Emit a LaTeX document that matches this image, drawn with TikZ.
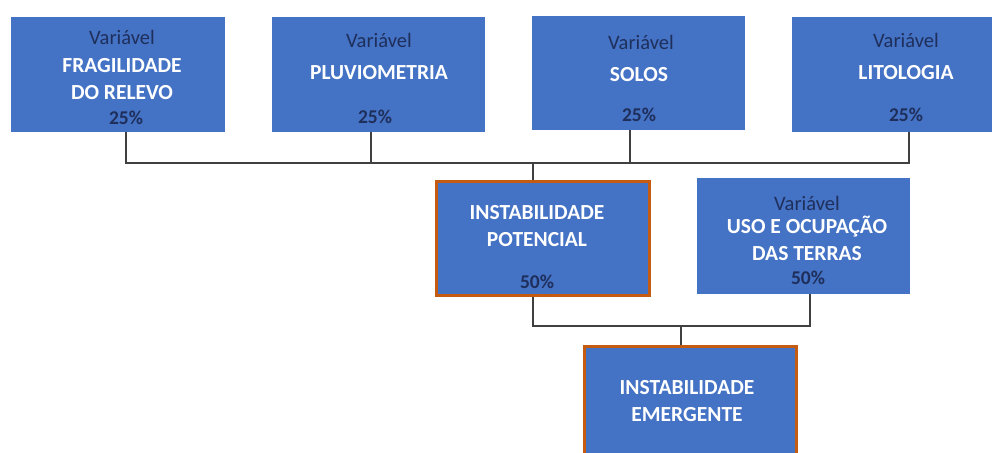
\documentclass[tikz,border=0pt]{standalone}
\usepackage{fontspec}
\setmainfont{Carlito}
\definecolor{boxblue}{HTML}{4472C4}
\definecolor{boxorange}{HTML}{C55A11}
\definecolor{navy}{HTML}{1F2F5C}
\definecolor{lineg}{HTML}{404040}
\begin{document}
\begin{tikzpicture}[x=1pt,y=-1pt,
  box/.style={fill=boxblue, inner sep=0pt, anchor=north west},
  obox/.style={box, draw=boxorange, line width=3pt},
  vtxt/.style={text=navy, font=\fontsize{20.5}{22}\selectfont, inner sep=0pt},
  ptxt/.style={text=navy, font=\fontsize{19.5}{22}\selectfont\bfseries, inner sep=0pt},
  ntxt/.style={text=white, font=\fontsize{21.5}{27}\selectfont\bfseries, inner sep=0pt, align=center},
  conn/.style={draw=lineg, line width=2pt}]
\useasboundingbox (0,0) rectangle (992,452);
\fill[white] (0,0) rectangle (992,452);
\clip (0,0) rectangle (992,452);
% top boxes
\node[box, minimum width=214pt, minimum height=115pt] (b1) at (11,17) {};
\node[box, minimum width=213pt, minimum height=115pt] (b2) at (272,17) {};
\node[box, minimum width=213pt, minimum height=114pt] (b3) at (532,16) {};
\node[box, minimum width=230pt, minimum height=115pt] (b4) at (792,17) {};
% middle/bottom boxes
\node[obox, minimum width=213pt, minimum height=114pt] (ip) at (434.5,179.5) {};
\node[box, minimum width=213pt, minimum height=116pt] (uso) at (697,178) {};
\node[obox, minimum width=212pt, minimum height=130pt] (ie) at (582.5,344.5) {};
% texts box 1
\node[vtxt] (b1v) at (122,37) {Variável};
\node[ntxt] (b1n) at (122,79) {FRAGILIDADE\\DO RELEVO};
\node[ptxt] (b1p) at (126,118) {25\%};
% box 2
\node[vtxt] (b2v) at (379,40) {Variável};
\node[ntxt] (b2n) at (379,73) {PLUVIOMETRIA};
\node[ptxt] (b2p) at (375,117) {25\%};
% box 3
\node[vtxt] (b3v) at (641,42) {Variável};
\node[ntxt] (b3n) at (639,75) {SOLOS};
\node[ptxt] (b3p) at (639,115) {25\%};
% box 4
\node[vtxt] (b4v) at (906,40) {Variável};
\node[ntxt] (b4n) at (906,73) {LITOLOGIA};
\node[ptxt] (b4p) at (906,115) {25\%};
% IP
\node[ntxt] (ipn) at (537,226) {INSTABILIDADE\\POTENCIAL};
\node[ptxt] (ipp) at (537,282) {50\%};
% USO
\node[vtxt] (usov) at (807,203) {Variável};
\node[ntxt] (uson) at (807,238) {USO E OCUPAÇÃO\\DAS TERRAS};
\node[ptxt] (usop) at (808,278) {50\%};
% IE
\node[ntxt] (ien) at (687,401) {INSTABILIDADE\\EMERGENTE};
% connectors
\coordinate (d1) at (126,163);
\coordinate (d2) at (371,163);
\coordinate (d3) at (630,163);
\coordinate (d4) at (909,163);
\coordinate (d5) at (533,163);
\draw[conn] (d1 |- b1.south) -- (d1) -- (d4) -- (d4 |- b4.south);
\draw[conn] (d2 |- b2.south) -- (d2);
\draw[conn] (d3 |- b3.south) -- (d3);
\draw[conn] (d5) -- (d5 |- ip.north);
\coordinate (l1) at (533,326);
\coordinate (l2) at (810,326);
\coordinate (l3) at (681,326);
\draw[conn] (l1 |- ip.south) -- (l1) -- (l2) -- (l2 |- uso.south);
\draw[conn] (l3) -- (l3 |- ie.north);
\end{tikzpicture}
\end{document}
